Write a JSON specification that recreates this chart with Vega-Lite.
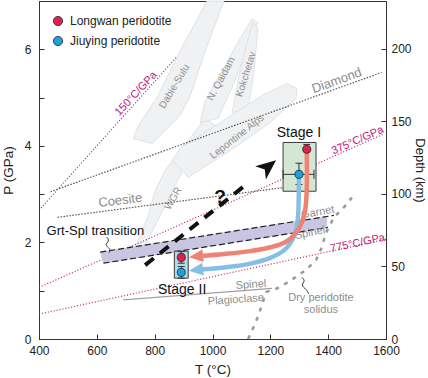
{
"$schema":"https://vega.github.io/schema/vega-lite/v6.json",
"width":347,"height":338,"autosize":"none",
"padding":{"left":39,"top":1,"right":42,"bottom":39},
"config":{
 "view":{"stroke":"#333","strokeWidth":1},
 "font":"Liberation Sans",
 "axis":{"grid":false,"labelFont":"Liberation Sans","labelFontSize":12,"labelColor":"#222","titleFont":"Liberation Sans","titleFontSize":13.5,"titleFontWeight":"normal","titleColor":"#222","domainColor":"#333","tickColor":"#333","tickSize":-5,"labelFlush":false}
},
"datasets":{
 "terr":[
  {"n":"a","i":0,"T":1040,"P":7.0},{"n":"a","i":1,"T":975,"P":5.97},{"n":"a","i":2,"T":923,"P":5.04},{"n":"a","i":3,"T":888,"P":4.63},{"n":"a","i":4,"T":792,"P":4.05},{"n":"a","i":5,"T":726,"P":4.15},{"n":"a","i":6,"T":743,"P":4.42},{"n":"a","i":7,"T":812,"P":5.04},{"n":"a","i":8,"T":888,"P":5.97},{"n":"a","i":9,"T":981,"P":7.0},{"n":"a","i":10,"T":1040,"P":7.0},
  {"n":"b","i":0,"T":726,"P":1.69},{"n":"b","i":1,"T":757,"P":1.80},{"n":"b","i":2,"T":819,"P":2.56},{"n":"b","i":3,"T":871,"P":3.18},{"n":"b","i":4,"T":905,"P":3.60},{"n":"b","i":5,"T":1009,"P":4.42},{"n":"b","i":6,"T":975,"P":4.57},{"n":"b","i":7,"T":888,"P":3.90},{"n":"b","i":8,"T":836,"P":3.49},{"n":"b","i":9,"T":802,"P":3.08},{"n":"b","i":10,"T":778,"P":2.56},{"n":"b","i":11,"T":736,"P":1.94},{"n":"b","i":12,"T":726,"P":1.69},
  {"n":"c","i":0,"T":957,"P":4.48},{"n":"c","i":1,"T":1019,"P":4.57},{"n":"c","i":2,"T":1078,"P":5.35},{"n":"c","i":3,"T":1130,"P":6.18},{"n":"c","i":4,"T":1157,"P":6.55},{"n":"c","i":5,"T":1137,"P":6.63},{"n":"c","i":6,"T":1095,"P":6.22},{"n":"c","i":7,"T":1033,"P":5.56},{"n":"c","i":8,"T":975,"P":4.94},{"n":"c","i":9,"T":957,"P":4.48},
  {"n":"d","i":0,"T":1068,"P":4.69},{"n":"d","i":1,"T":1123,"P":4.77},{"n":"d","i":2,"T":1144,"P":5.56},{"n":"d","i":3,"T":1157,"P":6.43},{"n":"d","i":4,"T":1140,"P":6.55},{"n":"d","i":5,"T":1116,"P":6.07},{"n":"d","i":6,"T":1088,"P":5.35},{"n":"d","i":7,"T":1068,"P":4.69},
  {"n":"e","i":0,"T":861,"P":3.70},{"n":"e","i":1,"T":916,"P":3.35},{"n":"e","i":2,"T":1061,"P":3.90},{"n":"e","i":3,"T":1199,"P":4.48},{"n":"e","i":4,"T":1289,"P":4.98},{"n":"e","i":5,"T":1292,"P":5.19},{"n":"e","i":6,"T":1257,"P":5.29},{"n":"e","i":7,"T":1171,"P":5.04},{"n":"e","i":8,"T":1026,"P":4.48},{"n":"e","i":9,"T":888,"P":3.95},{"n":"e","i":10,"T":861,"P":3.70}
 ],
 "geo":[{"g":"150","T":400,"P":2.667},{"g":"150","T":878,"P":5.853},{"g":"375","T":400,"P":1.067},{"g":"375","T":1592,"P":4.245},{"g":"775","T":400,"P":0.516},{"g":"775","T":1600,"P":2.065}],
 "phase":[{"n":"Diamond","T":440,"P":3.05},{"n":"Diamond","T":1585,"P":5.52},{"n":"Coesite","T":464,"P":2.52},{"n":"Coesite","T":1250,"P":3.14}],
 "band":[{"i":0,"T":612,"P":1.80},{"i":1,"T":1395,"P":2.536},{"i":2,"T":1395,"P":2.306},{"i":3,"T":623,"P":1.57},{"i":4,"T":612,"P":1.80}],
 "gs":[{"n":"Garnet","T":612,"P":1.80},{"n":"Garnet","T":1420,"P":2.56},{"n":"Spinel","T":623,"P":1.57},{"n":"Spinel","T":1399,"P":2.31}],
 "sp":[{"T":692,"P":0.81},{"T":1206,"P":1.05}],
 "sol":[{"T":1123,"P":0},{"T":1150,"P":0.35},{"T":1171,"P":0.70},{"T":1185,"P":0.97},{"T":1233,"P":1.07},{"T":1282,"P":1.26},{"T":1323,"P":1.43},{"T":1358,"P":1.63},{"T":1378,"P":1.90},{"T":1392,"P":2.19},{"T":1420,"P":2.52},{"T":1458,"P":2.75},{"T":1482,"P":2.93}],
 "sq":[{"n":"a","i":0,"T":634,"P":2.11},{"n":"a","i":1,"T":645,"P":2.03},{"n":"a","i":2,"T":625,"P":1.95},{"n":"a","i":3,"T":648,"P":1.87},{"n":"a","i":4,"T":643,"P":1.79},{"n":"b","i":0,"T":1309,"P":1.28},{"n":"b","i":1,"T":1322,"P":1.20},{"n":"b","i":2,"T":1304,"P":1.12},{"n":"b","i":3,"T":1325,"P":1.03},{"n":"b","i":4,"T":1333,"P":0.93}],
 "red":[{"i":0,"T":1326,"P":3.85},{"i":1,"T":1326,"P":3.10},{"i":2,"T":1321,"P":2.70},{"i":3,"T":1308,"P":2.40},{"i":4,"T":1285,"P":2.17},{"i":5,"T":1250,"P":2.00},{"i":6,"T":1200,"P":1.90},{"i":7,"T":1130,"P":1.82},{"i":8,"T":1040,"P":1.76},{"i":9,"T":957,"P":1.72}],
 "blue":[{"i":0,"T":1299,"P":3.37},{"i":1,"T":1298,"P":2.90},{"i":2,"T":1296,"P":2.55},{"i":3,"T":1290,"P":2.28},{"i":4,"T":1276,"P":2.05},{"i":5,"T":1250,"P":1.85},{"i":6,"T":1200,"P":1.68},{"i":7,"T":1130,"P":1.56},{"i":8,"T":1040,"P":1.48},{"i":9,"T":957,"P":1.44}],
 "pts":[{"s":"Longwan peridotite","T":1326,"P":3.93},{"s":"Jiuying peridotite","T":1299,"P":3.41},{"s":"Longwan peridotite","T":892,"P":1.69},{"s":"Jiuying peridotite","T":892,"P":1.38}]
},
"layer":[
 {"encoding":{
   "x":{"field":"T","type":"quantitative","scale":{"domain":[400,1600],"nice":false,"zero":false},"axis":{"title":"T (°C)","format":"d","values":[400,600,800,1000,1200,1400,1600],"labelPadding":11,"titlePadding":6}},
   "y":{"field":"P","type":"quantitative","scale":{"domain":[0,7],"nice":false,"zero":false},"axis":{"title":"P (GPa)","values":[0,1,2,3,4,5,6],"labelExpr":"datum.value % 2 === 0 ? datum.label : ''","labelPadding":13,"titlePadding":9}}},
  "layer":[
   {"data":{"name":"terr"},"mark":{"type":"line","fill":"#eff1f3","stroke":"#d9dde0","strokeWidth":0.8},"encoding":{"detail":{"field":"n"},"order":{"field":"i"}}},
   {"data":{"values":[{"T":868,"P":5.23,"label":"Dabie-Sulu"}]},"mark":{"type":"text","angle":301,"fontSize":10,"color":"#8e8e8e"},"encoding":{"text":{"field":"label"}}},
   {"data":{"values":[{"T":1030,"P":5.39,"label":"N. Qaidam"}]},"mark":{"type":"text","angle":298,"fontSize":10,"color":"#8e8e8e"},"encoding":{"text":{"field":"label"}}},
   {"data":{"values":[{"T":1116,"P":5.48,"label":"Kokchetav"}]},"mark":{"type":"text","angle":287,"fontSize":10,"color":"#8e8e8e"},"encoding":{"text":{"field":"label"}}},
   {"data":{"values":[{"T":1085,"P":4.19,"label":"Lepontine Alps"}]},"mark":{"type":"text","angle":322,"fontSize":10,"color":"#8e8e8e"},"encoding":{"text":{"field":"label"}}},
   {"data":{"values":[{"T":864,"P":2.91,"label":"WGR"}]},"mark":{"type":"text","angle":300,"fontSize":10,"color":"#8e8e8e"},"encoding":{"text":{"field":"label"}}},
   {"data":{"name":"geo"},"mark":{"type":"line","color":"#c2187a","strokeDash":[1,2],"strokeWidth":1.2},"encoding":{"detail":{"field":"g"}}},
   {"data":{"name":"phase"},"mark":{"type":"line","color":"#555","strokeDash":[1.5,1.5],"strokeWidth":1.2},"encoding":{"detail":{"field":"n"}}},
   {"data":{"name":"band"},"mark":{"type":"line","fill":"#c9c6e3","stroke":"#c9c6e3","strokeWidth":0.5},"encoding":{"order":{"field":"i"}}},
   {"data":{"name":"gs"},"mark":{"type":"line","color":"#222","strokeDash":[6,3],"strokeWidth":1.2},"encoding":{"detail":{"field":"n"}}},
   {"data":{"name":"sp"},"mark":{"type":"line","color":"#a0a0a0","strokeWidth":1.2},"encoding":{}},
   {"data":{"name":"sol"},"mark":{"type":"line","color":"#9a9a9a","strokeWidth":2.5,"strokeDash":[4,6]},"encoding":{}},
   {"data":{"name":"sq"},"mark":{"type":"line","color":"#222","strokeWidth":0.9,"interpolate":"basis"},"encoding":{"detail":{"field":"n"},"order":{"field":"i"}}},
   {"data":{"values":[{"T":1430,"P":5.35,"label":"Diamond"}]},"mark":{"type":"text","angle":340,"fontSize":13,"color":"#8c8c8c"},"encoding":{"text":{"field":"label"}}},
   {"data":{"values":[{"T":681,"P":2.87,"label":"Coesite"}]},"mark":{"type":"text","angle":353,"fontSize":13,"color":"#8c8c8c"},"encoding":{"text":{"field":"label"}}},
   {"data":{"values":[{"T":1364,"P":2.62,"label":"Garnet"}]},"mark":{"type":"text","angle":350,"fontSize":11,"color":"#8c8c8c"},"encoding":{"text":{"field":"label"}}},
   {"data":{"values":[{"T":1337,"P":2.19,"label":"Spinel"}]},"mark":{"type":"text","angle":348,"fontSize":11,"color":"#8c8c8c"},"encoding":{"text":{"field":"label"}}},
   {"data":{"values":[{"T":1133,"P":1.12,"label":"Spinel"},{"T":1081,"P":0.81,"label":"Plagioclase"}]},"mark":{"type":"text","angle":356,"fontSize":11,"color":"#8c8c8c"},"encoding":{"text":{"field":"label"}}},
   {"data":{"values":[{"T":1375,"P":0.85,"label":"Dry peridotite"},{"T":1375,"P":0.60,"label":"solidus"}]},"mark":{"type":"text","fontSize":11,"color":"#8c8c8c"},"encoding":{"text":{"field":"label"}}},
   {"data":{"values":[{"T":595,"P":2.23,"label":"Grt-Spl transition"}]},"mark":{"type":"text","fontSize":13,"color":"#111"},"encoding":{"text":{"field":"label"}}},
   {"data":{"values":[{"T":736,"P":5.08,"label":"150°C/GPa"}]},"mark":{"type":"text","angle":313,"fontSize":11,"color":"#c2187a"},"encoding":{"text":{"field":"label"}}},
   {"data":{"values":[{"T":1502,"P":4.11,"label":"375°C/GPa"}]},"mark":{"type":"text","angle":336,"fontSize":11,"color":"#c2187a"},"encoding":{"text":{"field":"label"}}},
   {"data":{"values":[{"T":1502,"P":1.98,"label":"775°C/GPa"}]},"mark":{"type":"text","angle":348,"fontSize":11,"color":"#c2187a"},"encoding":{"text":{"field":"label"}}},
   {"data":{"values":[{"T":1244,"T2":1358,"P":3.06,"P2":4.07}]},"mark":{"type":"rect","fill":"#d3e7d2","stroke":"#3d3d3d","strokeWidth":1},"encoding":{"x2":{"field":"T2"},"y2":{"field":"P2"}}},
   {"data":{"values":[{"T":868,"T2":916,"P":1.26,"P2":1.82}]},"mark":{"type":"rect","fill":"#b0dbec","stroke":"#3d3d3d","strokeWidth":1},"encoding":{"x2":{"field":"T2"},"y2":{"field":"P2"}}},
   {"data":{"values":[{"T":1326,"P":3.83,"P2":4.03},{"T":1299,"P":3.20,"P2":3.64},{"T":892,"P":1.57,"P2":1.81},{"T":892,"P":1.26,"P2":1.50}]},"mark":{"type":"rule","color":"#333","strokeWidth":1},"encoding":{"y2":{"field":"P2"}}},
   {"data":{"values":[{"T":1244,"T2":1351,"P":3.41}]},"mark":{"type":"rule","color":"#333","strokeWidth":1},"encoding":{"x2":{"field":"T2"}}},
   {"data":{"values":[{"T":1326,"P":4.03},{"T":1299,"P":3.20},{"T":1299,"P":3.64},{"T":892,"P":1.57},{"T":892,"P":1.81},{"T":892,"P":1.26},{"T":892,"P":1.50}]},"mark":{"type":"point","shape":"stroke","size":49,"color":"#333","strokeWidth":1,"opacity":1},"encoding":{}},
   {"data":{"values":[{"T":1244,"P":3.41},{"T":1351,"P":3.41}]},"mark":{"type":"point","shape":"stroke","angle":90,"size":81,"color":"#333","strokeWidth":1,"opacity":1},"encoding":{}},
   {"data":{"name":"blue"},"mark":{"type":"line","color":"#86bfe6","strokeWidth":4.5,"interpolate":"catmull-rom"},"encoding":{"order":{"field":"i"}}},
   {"data":{"name":"red"},"mark":{"type":"line","color":"#f08273","strokeWidth":4.5,"interpolate":"catmull-rom"},"encoding":{"order":{"field":"i"}}},
   {"data":{"values":[{"T":943,"P":1.71}]},"mark":{"type":"point","shape":"M -1 0 L 1 -0.9 L 1 0.9 Z","size":200,"filled":true,"color":"#f08273","opacity":1,"angle":354},"encoding":{}},
   {"data":{"values":[{"T":943,"P":1.43}]},"mark":{"type":"point","shape":"M -1 0 L 1 -0.9 L 1 0.9 Z","size":200,"filled":true,"color":"#86bfe6","opacity":1,"angle":353},"encoding":{}},
   {"data":{"name":"pts"},"mark":{"type":"point","filled":true,"size":65,"stroke":"#222","strokeWidth":0.8,"opacity":1},"encoding":{"color":{"field":"s","type":"nominal","scale":{"domain":["Longwan peridotite","Jiuying peridotite"],"range":["#e2204d","#1ea0dd"]},"legend":{"title":null,"orient":"none","legendX":13,"legendY":14,"labelFontSize":12,"labelFont":"Liberation Sans","labelColor":"#222","symbolSize":85,"symbolType":"circle","symbolStrokeColor":"#222","symbolStrokeWidth":0.8,"symbolOpacity":1,"rowPadding":6,"labelOffset":6,"padding":0}}}},
   {"data":{"values":[{"T":767,"P":1.53},{"T":1116,"P":3.20}]},"mark":{"type":"line","color":"#111","strokeWidth":4,"strokeDash":[11,8]},"encoding":{}},
   {"data":{"values":[{"T":1193,"P":3.57}]},"mark":{"type":"point","shape":"M 1 0 L -1 -0.85 L -0.45 0 L -1 0.85 Z","size":400,"filled":true,"color":"#111","opacity":1,"angle":321},"encoding":{}},
   {"data":{"values":[{"T":1026,"P":2.95,"label":"?"}]},"mark":{"type":"text","fontSize":19,"fontWeight":"bold","color":"#111"},"encoding":{"text":{"field":"label"}}},
   {"data":{"values":[{"T":1299,"P":4.26,"label":"Stage I"},{"T":895,"P":1.01,"label":"Stage II"}]},"mark":{"type":"text","fontSize":14,"color":"#111"},"encoding":{"text":{"field":"label"}}}
  ]},
 {"data":{"values":[{"D":0},{"D":233.1}]},"mark":{"type":"point","opacity":0},"encoding":{"y":{"field":"D","type":"quantitative","scale":{"domain":[0,233.1],"nice":false},"axis":{"orient":"right","title":"Depth (km)","titleFontSize":13,"values":[0,50,100,150,200],"labelPadding":10,"titlePadding":1}}}}
],
"resolve":{"scale":{"y":"independent"}}
}
